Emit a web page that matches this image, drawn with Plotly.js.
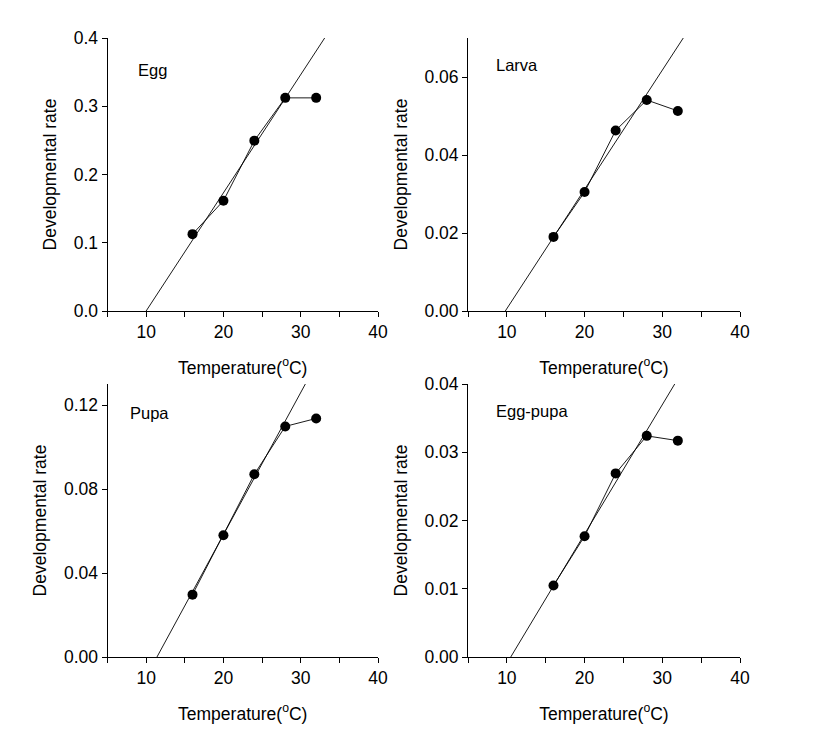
<!DOCTYPE html>
<html>
<head>
<meta charset="utf-8">
<script src="https://cdn.plot.ly/plotly-3.0.1.min.js"></script>
<style>html,body{margin:0;padding:0;background:#fff;}#chart{width:821px;height:731px;}</style>
</head>
<body>
<div id="chart"></div>
<script>
// Data
const temperature = [16, 20, 24, 28, 32];
const eggRate = [0.1126, 0.1615, 0.2496, 0.3123, 0.3123];
const larvaRate = [0.0190, 0.0305, 0.0463, 0.0541, 0.0513];
const pupaRate = [0.0297, 0.0580, 0.0870, 0.1098, 0.1136];
const eggPupaRate = [0.01047, 0.0177, 0.0269, 0.0324, 0.0317];
const panelNames = ["Egg", "Larva", "Pupa", "Egg-pupa"];
// linear regression fit: threshold temperature (rate = 0) and top end of drawn line
const fitThreshold = [10.0, 9.8, 11.4, 10.5];
const fitEndTemp = [33.1, 32.7, 30.6, 31.6];
const fitEndRate = [0.4, 0.07, 0.13, 0.04];
const xTickVals = [10, 20, 30, 40];
const xTickText = ["10", "20", "30", "40"];

const series = [eggRate, larvaRate, pupaRate, eggPupaRate];
const yRanges = [[0, 0.4], [0, 0.07], [0, 0.13], [0, 0.04]];
const yDticks = [0.1, 0.02, 0.04, 0.01];
const yFormats = [".1f", ".2f", ".2f", ".2f"];

const W = 821, H = 731;
const xDomains = [[107.5 / W, 378 / W], [468 / W, 740 / W], [107.5 / W, 378 / W], [468 / W, 740 / W]];
const yDomains = [[1 - 311 / H, 1 - 38 / H], [1 - 311 / H, 1 - 38 / H], [1 - 657 / H, 1 - 384 / H], [1 - 657 / H, 1 - 384 / H]];
const labelPos = [[136, 70], [494, 65], [128, 413], [494, 411]];

const font = "Liberation Sans, Arial, sans-serif";
const FS = 17.5;
const traces = [];
const layout = {
  width: W, height: H,
  margin: {l: 0, r: 0, t: 0, b: 0},
  paper_bgcolor: "#fff", plot_bgcolor: "#fff",
  showlegend: false,
  font: {family: font, color: "#000", size: FS},
  annotations: []
};

for (let i = 0; i < 4; i++) {
  const s = i === 0 ? "" : String(i + 1);
  traces.push({
    x: [fitThreshold[i], fitEndTemp[i]],
    y: [0, fitEndRate[i]],
    xaxis: "x" + s, yaxis: "y" + s,
    mode: "lines", line: {color: "#000", width: 0.9},
    cliponaxis: false, hoverinfo: "skip"
  });
  traces.push({
    x: temperature, y: series[i],
    xaxis: "x" + s, yaxis: "y" + s,
    mode: "lines+markers",
    line: {color: "#000", width: 0.9},
    marker: {color: "#000", size: 10, symbol: "circle"},
    cliponaxis: false
  });
  layout["xaxis" + s] = {
    domain: xDomains[i], anchor: "y" + s, range: [5, 40],
    tickmode: "array", tickvals: xTickVals, ticktext: xTickText,
    ticks: "outside", ticklen: 5, tickwidth: 1, tickcolor: "#000",
    minor: {dtick: 5, tick0: 0, ticks: "outside", ticklen: 5, tickwidth: 1, tickcolor: "#000", showgrid: false},
    showline: true, linecolor: "#000", linewidth: 1,
    showgrid: false, zeroline: false,
    tickfont: {family: font, size: FS, color: "#000"},
    title: {text: "Temperature(<sup>o</sup>C)", font: {family: font, size: FS, color: "#000"}, standoff: 20}
  };
  layout["yaxis" + s] = {
    domain: yDomains[i], anchor: "x" + s, range: yRanges[i],
    dtick: yDticks[i], tick0: 0, tickformat: yFormats[i],
    ticks: "outside", ticklen: 5, tickwidth: 1, tickcolor: "#000",
    showline: true, linecolor: "#000", linewidth: 1,
    showgrid: false, zeroline: false,
    tickfont: {family: font, size: FS, color: "#000"},
    title: {text: "Developmental rate", font: {family: font, size: FS, color: "#000"}, standoff: 12}
  };
  layout.annotations.push({
    xref: "paper", yref: "paper",
    x: labelPos[i][0] / W, y: 1 - labelPos[i][1] / H,
    xanchor: "left", yanchor: "middle",
    text: panelNames[i], showarrow: false,
    font: {family: font, size: 16.5, color: "#000"}
  });
}

Plotly.newPlot("chart", traces, layout, {displayModeBar: false, staticPlot: true});
</script>
</body>
</html>
